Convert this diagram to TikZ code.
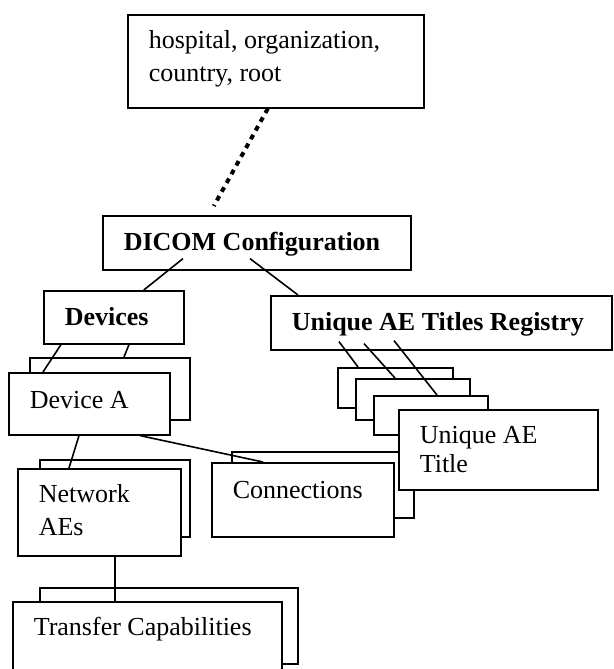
\documentclass[tikz,border=0pt]{standalone}
\usepackage{fontspec}
\setmainfont{Liberation Serif}
\usetikzlibrary{positioning}

\begin{document}
\begin{tikzpicture}[x=1pt, y=-1pt, font=\fontsize{26}{33}\selectfont,
    box/.style={draw, fill=white, line width=1.6pt, anchor=north west, inner xsep=21pt, inner ysep=0pt, align=flush left},
    backbox/.style={draw, fill=white, line width=1.6pt, anchor=north west, inner sep=0pt},
    link/.style={line width=1.6pt},
    dotlink/.style={line width=4pt, dash pattern=on 5pt off 5pt}]

    \useasboundingbox (0,0) rectangle (613,669);

    % Define nodes
    \node[box, text width=254pt, text height=34pt, text depth=59pt] (root) at (127,14) {hospital, organization,\\country, root};
    \node[box, text width=266pt, text height=35pt, text depth=19pt] (dicom) at (102,215) {\textbf{DICOM Configuration}};
    \node[box, text width=98pt, text height=35pt, text depth=18pt] (devices) at (43,290) {\textbf{Devices}};
    \node[box, text width=299pt, text height=35pt, text depth=19pt] (registry) at (270,295) {\textbf{Unique AE Titles Registry}};

    \node[backbox, minimum width=160pt, minimum height=62pt] (deviceb) at (29,357) {};
    \node[box, text width=119pt, text height=36pt, text depth=26pt] (device) at (8,372) {Device A};

    \node[backbox, minimum width=150pt, minimum height=77pt] (netb) at (39,459) {};
    \node[box, text width=121pt, text height=34pt, text depth=53pt] (net) at (17,468) {Network\\AEs};

    \node[backbox, minimum width=115pt, minimum height=40pt] (title1) at (337,367) {};
    \node[backbox, minimum width=114pt, minimum height=41pt] (title2) at (355,378) {};
    \node[backbox, minimum width=114pt, minimum height=39pt] (title3) at (373,395) {};

    \node[backbox, minimum width=182pt, minimum height=66pt] (connb) at (231,451) {};
    \node[box, text width=140pt, text height=36pt, text depth=38pt] (conn) at (211,462) {Connections};
    \node[box, text width=157pt, text height=34pt, text depth=46pt, font=\fontsize{26}{29}\selectfont] (title) at (398,409) {Unique AE\\Title};

    \node[backbox, minimum width=258pt, minimum height=76pt] (tcb) at (39,587) {};
    \node[box, text width=227pt, text height=34pt, text depth=45pt] (tc) at (12,601) {Transfer Capabilities};

    % Draw edges
    \draw[dotlink] ([xshift=-8pt]root.south) -- ([xshift=-43pt,yshift=9pt]dicom.north);
    \draw[link] ([xshift=81pt,yshift=12pt]dicom.south west) -- ([xshift=30pt]devices.north);
    \draw[link] ([xshift=148pt,yshift=12pt]dicom.south west) -- ([xshift=28pt]registry.north west);
    \draw[link] ([xshift=18pt]devices.south west) -- ([xshift=35pt]device.north west);
    \draw[link] ([xshift=86pt]devices.south west) -- ([xshift=95pt]deviceb.north west);
    \draw[link] ([xshift=71pt]device.south west) -- ([xshift=52pt]net.north west);
    \draw[link] ([xshift=132pt]device.south west) -- ([xshift=52pt]conn.north west);
    \draw[link] ([xshift=98pt]net.south west) -- ([xshift=103pt]tc.north west);
    \draw[link] ([xshift=69pt,yshift=9pt]registry.south west) -- ([xshift=21pt]title1.north west);
    \draw[link] ([xshift=94pt,yshift=7pt]registry.south west) -- ([xshift=40pt]title2.north west);
    \draw[link] ([xshift=124pt,yshift=10pt]registry.south west) -- ([xshift=64pt]title3.north west);

\end{tikzpicture}
\end{document}
